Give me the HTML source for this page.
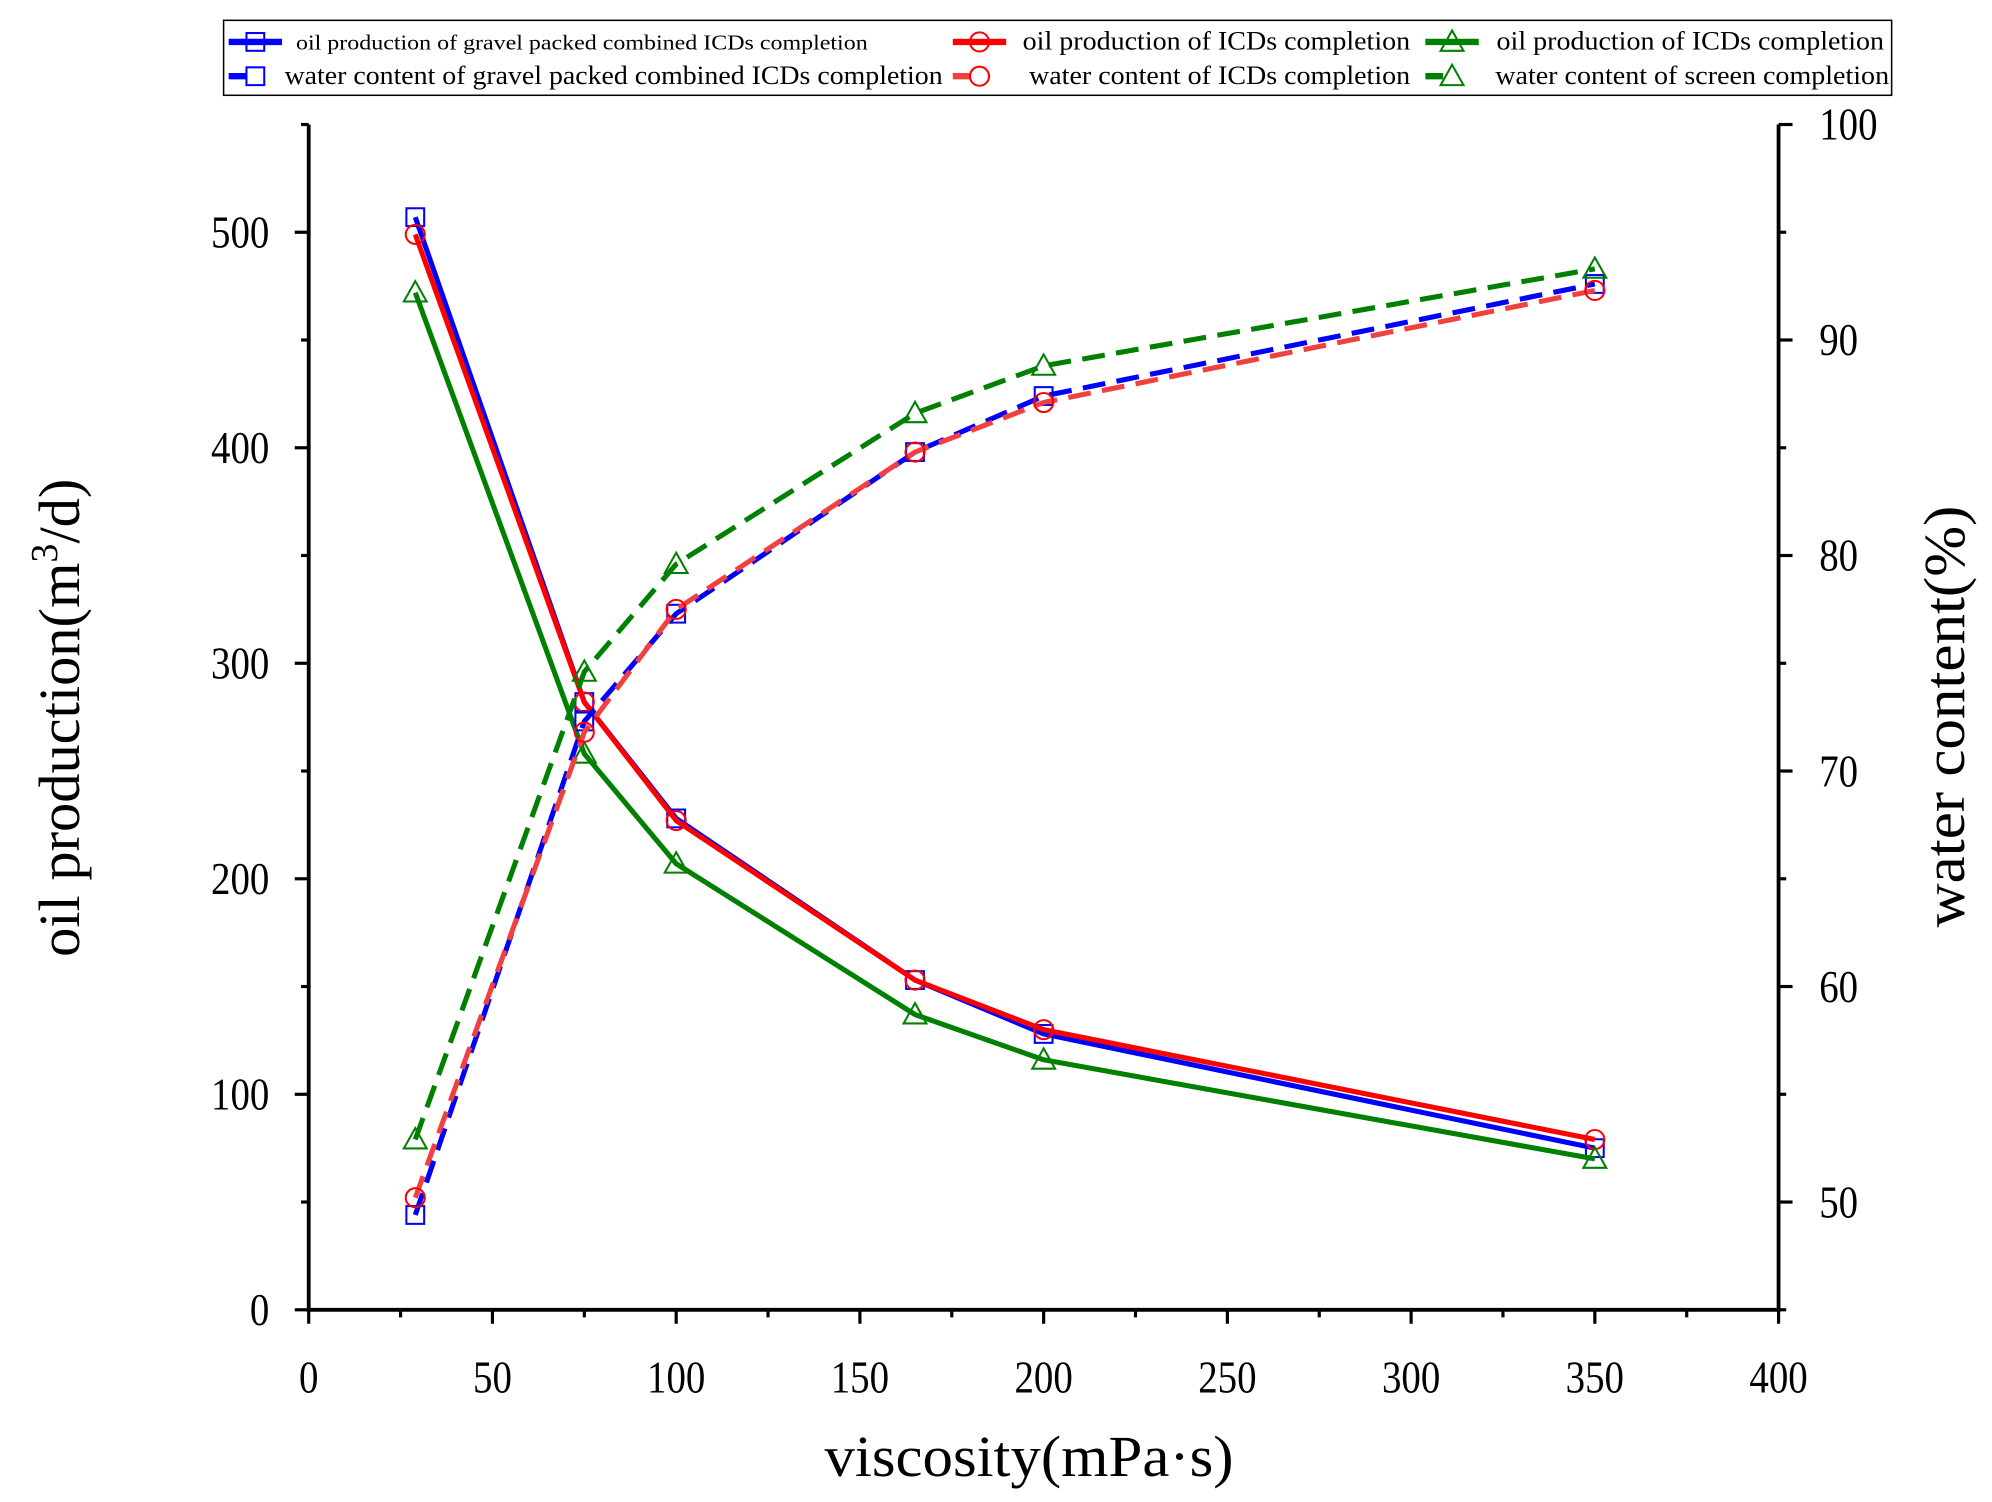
<!DOCTYPE html>
<html><head><meta charset="utf-8"><style>html,body{margin:0;padding:0;background:#fff}svg{display:block}text{font-family:"Liberation Serif",serif}</style></head>
<body>
<svg id="chart" width="1992" height="1502" viewBox="0 0 1568 1182.3" xmlns="http://www.w3.org/2000/svg"></svg>
<script>
const xs = [29, 75, 100, 165, 200, 350];
const oilBlue = [507, 282, 228, 153, 128, 75];
const oilRed = [499, 282, 227, 153, 130, 79];
const oilGreen = [472, 258, 207, 137, 116, 70];
const waterBlue = [49.4, 72.3, 77.3, 84.8, 87.4, 92.6];
const waterRed = [50.2, 71.8, 77.5, 84.8, 87.1, 92.3];
const waterGreen = [52.9, 74.6, 79.6, 86.6, 88.8, 93.3];
const xTicks = [0, 50, 100, 150, 200, 250, 300, 350, 400];
const yTicks = [0, 100, 200, 300, 400, 500];
const y2Ticks = [50, 60, 70, 80, 90, 100];

const NS = 'http://www.w3.org/2000/svg';
const svg = document.getElementById('chart');
const L = 243, R = 1400, B = 1031, T = 98;
const X = v => L + (v - 0) / 400 * (R - L);
const Y = v => B - v / 550 * (B - T);
const Y2 = v => B - (v - 45) / 55 * (B - T);
function mk(tag, attrs, parent) {
  const e = document.createElementNS(NS, tag);
  for (const k in attrs) e.setAttribute(k, attrs[k]);
  (parent || svg).appendChild(e);
  return e;
}
function marker(g, type, x, y, color) {
  if (type === 'sq') return mk('rect', {x: x - 7, y: y - 7, width: 14, height: 14, fill: 'none', stroke: color, 'stroke-width': 1.6}, g);
  if (type === 'ci') return mk('circle', {cx: x, cy: y, r: 7.5, fill: 'none', stroke: color, 'stroke-width': 1.6}, g);
  return mk('polygon', {points: `${x},${y - 9} ${x - 9},${y + 7} ${x + 9},${y + 7}`, fill: 'none', stroke: color, 'stroke-width': 1.6}, g);
}
const series = [
  {name: 'oil-blue', vals: oilBlue, yf: Y, color: '#0000ff', dash: null, m: 'sq'},
  {name: 'oil-red', vals: oilRed, yf: Y, color: '#ff0000', dash: null, m: 'ci'},
  {name: 'oil-green', vals: oilGreen, yf: Y, color: '#008000', dash: null, m: 'tr'},
  {name: 'water-blue', vals: waterBlue, yf: Y2, color: '#0000ff', dash: '18,9', m: 'sq'},
  {name: 'water-red', vals: waterRed, yf: Y2, color: '#f04040', dash: '18,9', m: 'ci'},
  {name: 'water-green', vals: waterGreen, yf: Y2, color: '#008000', dash: '18,9', m: 'tr'}
];
series.forEach(s => {
  const g = mk('g', {});
  
  
  const pts = s.vals.map((v, i) => X(xs[i]) + ',' + s.yf(v)).join(' ');
  const pl = mk('polyline', {points: pts, fill: 'none', stroke: s.color, 'stroke-width': 4, 'stroke-linejoin': 'round'}, g);
  if (s.dash) pl.setAttribute('stroke-dasharray', s.dash);
  
  
  s.vals.forEach((v, i) => {
    const m = marker(g, s.m, X(xs[i]), s.yf(v), s.color === '#f04040' ? '#ff0000' : s.color);
    
    
  });
});
const ax = mk('g', {stroke: '#000', 'stroke-width': 3});


mk('line', {x1: L, y1: T, x2: L, y2: B + 1.5}, ax);
mk('line', {x1: L - 1.5, y1: B, x2: R + 1.5, y2: B}, ax);
mk('line', {x1: R, y1: T, x2: R, y2: B + 1.5}, ax);
for (let v = 0; v <= 400; v += 25) {
  const maj = v % 50 === 0;
  mk('line', {x1: X(v), y1: B, x2: X(v), y2: B + (maj ? 11 : 6), 'stroke-width': 2.5}, ax);
}
for (let v = 0; v <= 550; v += 50) {
  const maj = v % 100 === 0;
  mk('line', {x1: L, y1: Y(v), x2: L - (maj ? 11 : 6), y2: Y(v), 'stroke-width': 2.5}, ax);
}
for (let v = 45; v <= 100; v += 5) {
  const maj = v % 10 === 0;
  mk('line', {x1: R, y1: Y2(v), x2: R + (maj ? 11 : 6), y2: Y2(v), 'stroke-width': 2.5}, ax);
}
function txt(s, attrs, name) {
  const t = mk('text', Object.assign({fill: '#000'}, attrs));
  t.textContent = s;
  
  
  return t;
}
xTicks.forEach(v => txt(String(v), {x: X(v), y: 1096, 'font-size': 36, 'text-anchor': 'middle', transform: `translate(${X(v)},0) scale(0.85,1) translate(${-X(v)},0)`}, 'x-tick-label'));
yTicks.forEach(v => txt(String(v), {x: 212, y: Y(v) + 12, 'font-size': 36, 'text-anchor': 'end', transform: `translate(212,0) scale(0.85,1) translate(-212,0)`}, 'y-tick-label'));
y2Ticks.forEach(v => txt(String(v), {x: 1432, y: Y2(v) + 12, 'font-size': 36, 'text-anchor': 'start', transform: `translate(1432,0) scale(0.85,1) translate(-1432,0)`}, 'y2-tick-label'));
txt('viscosity(mPa·s)', {x: 810, y: 1162, 'font-size': 46, 'text-anchor': 'middle', textLength: 322, lengthAdjust: 'spacingAndGlyphs'}, 'x-axis-title');
const yt = txt('', {x: 0, y: 0, 'font-size': 46, 'text-anchor': 'middle', transform: 'translate(62,565) rotate(-90)'}, 'y-axis-title');
yt.innerHTML = 'oil production(m<tspan dy="-17" font-size="30">3</tspan><tspan dy="17">/d)</tspan>';
txt('water content(%)', {x: 0, y: 0, 'font-size': 46, 'text-anchor': 'middle', textLength: 332, lengthAdjust: 'spacingAndGlyphs', transform: 'translate(1546,564) rotate(-90)'}, 'y2-axis-title');
const lg = mk('g', {});


mk('rect', {x: 176, y: 16, width: 1313, height: 59, fill: '#fff', stroke: '#000', 'stroke-width': 1.2}, lg);
const entries = [
  {lx: 180, y: 33, c: '#0000ff', m: 'sq', dash: false, t: 'oil production of gravel packed combined ICDs completion', tx: 233, tl: 450, fs: 17},
  {lx: 750, y: 33, c: '#ff0000', m: 'ci', dash: false, t: 'oil production of ICDs completion', tx: 805, tl: 305, fs: 21},
  {lx: 1122, y: 33, c: '#008000', m: 'tr', dash: false, t: 'oil production of ICDs completion', tx: 1178, tl: 305, fs: 21},
  {lx: 180, y: 60, c: '#0000ff', m: 'sq', dash: true, t: 'water content of gravel packed combined ICDs completion', tx: 224, tl: 518, fs: 21},
  {lx: 750, y: 60, c: '#f04040', m: 'ci', dash: true, t: 'water content of ICDs completion', tx: 810, tl: 300, fs: 21},
  {lx: 1122, y: 60, c: '#008000', m: 'tr', dash: true, t: 'water content of screen completion', tx: 1177, tl: 310, fs: 21}
];
entries.forEach(e => {
  const g = mk('g', {}, lg);
  
  
  if (e.dash) mk('line', {x1: e.lx, y1: e.y, x2: e.lx + 14, y2: e.y, stroke: e.c, 'stroke-width': 5}, g);
  else mk('line', {x1: e.lx, y1: e.y, x2: e.lx + 42, y2: e.y, stroke: e.c, 'stroke-width': 5}, g);
  marker(g, e.m, e.lx + 21, e.y, e.c === '#f04040' ? '#ff0000' : e.c);
  const t = mk('text', {x: e.tx, y: e.y + 6, 'font-size': e.fs, fill: '#000', textLength: e.tl, lengthAdjust: 'spacingAndGlyphs'}, g);
  t.textContent = e.t;
});
</script>
</body></html>
